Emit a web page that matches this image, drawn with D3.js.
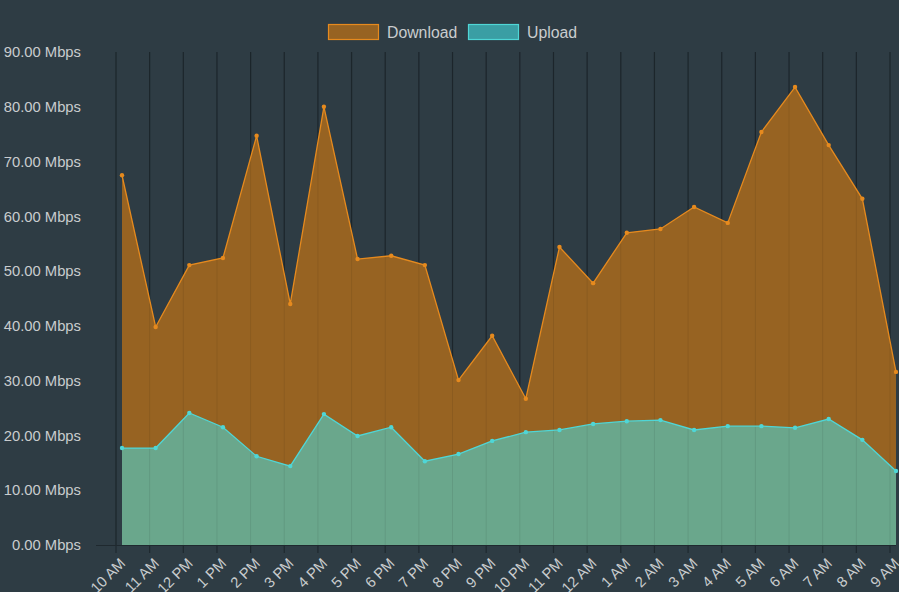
<!DOCTYPE html>
<html><head><meta charset="utf-8">
<script src="https://cdn.jsdelivr.net/npm/d3@7"></script>
<style>html,body{margin:0;padding:0;background:#2e3c44;}svg{display:block;}</style>
</head><body>
<svg id="c" width="899" height="592"></svg>
<script>
const categories = ["10 AM","11 AM","12 PM","1 PM","2 PM","3 PM","4 PM","5 PM","6 PM","7 PM","8 PM","9 PM","10 PM","11 PM","12 AM","1 AM","2 AM","3 AM","4 AM","5 AM","6 AM","7 AM","8 AM","9 AM"];
const download = [67.5,39.8,51.1,52.4,74.7,44.0,80.0,52.2,52.8,51.1,30.1,38.2,26.7,54.4,47.8,57.0,57.7,61.7,58.8,75.4,83.6,73.0,63.2,31.6];
const upload = [17.7,17.7,24.1,21.5,16.2,14.4,23.9,19.9,21.5,15.3,16.6,19.0,20.6,21.0,22.1,22.6,22.8,21.0,21.7,21.7,21.4,23.0,19.2,13.5];
const yTicks = [0,10,20,30,40,50,60,70,80,90];
const seriesNames = ["Download","Upload"];

const svg = d3.select("#c");
const W = 899, H = 592;
svg.append("rect").attr("width",W).attr("height",H).attr("fill","#2e3c44");

const x = d3.scalePoint().domain(d3.range(categories.length)).range([122,896]);
const y = d3.scaleLinear().domain([0,90]).range([545,52]);
const gridOff = -6;
const font = "'Liberation Sans', Arial, sans-serif";
const txt = "#c9ccce";

const g = svg.append("g");
g.selectAll("line.grid").data(d3.range(categories.length)).join("line")
  .attr("x1",i=>x(i)+gridOff).attr("x2",i=>x(i)+gridOff)
  .attr("y1",y(90)).attr("y2",553)
  .attr("stroke","#1f292f").attr("stroke-width",1.2);

const area = (arr)=>d3.area().x((d,i)=>x(i)).y0(y(0)).y1(d=>y(d))(arr);
const line = (arr)=>d3.line().x((d,i)=>x(i)).y(d=>y(d))(arr);

svg.append("path").attr("d",area(download)).attr("fill","#976322");
svg.append("path").attr("d",area(upload)).attr("fill","#6aa78c");

svg.append("g").selectAll("line").data(d3.range(categories.length)).join("line")
  .attr("x1",i=>x(i)+gridOff).attr("x2",i=>x(i)+gridOff)
  .attr("y1",y(90)).attr("y2",y(0))
  .attr("stroke","rgba(0,0,0,0.08)").attr("stroke-width",1);

svg.append("path").attr("d",line(download)).attr("fill","none").attr("stroke","#e68a1e").attr("stroke-width",1.3);
svg.append("path").attr("d",line(upload)).attr("fill","none").attr("stroke","#4fd6d6").attr("stroke-width",1.3);

svg.append("g").selectAll("circle").data(download).join("circle")
  .attr("cx",(d,i)=>x(i)).attr("cy",d=>y(d)).attr("r",2.2).attr("fill","#e68a1e");
svg.append("g").selectAll("circle").data(upload).join("circle")
  .attr("cx",(d,i)=>x(i)).attr("cy",d=>y(d)).attr("r",2.2).attr("fill","#4fd6d6");

svg.append("line").attr("x1",96).attr("x2",896).attr("y1",y(0)+0.5).attr("y2",y(0)+0.5)
  .attr("stroke","#1f292f").attr("stroke-width",1.2);

svg.append("g").selectAll("text").data(yTicks).join("text")
  .attr("x",81).attr("y",d=>y(d)).attr("dy","0.35em").attr("text-anchor","end")
  .attr("font-family",font).attr("font-size",14.8).attr("fill",txt)
  .text(d=>d3.format(".2f")(d)+" Mbps");

svg.append("g").selectAll("text").data(categories).join("text")
  .attr("transform",(d,i)=>`translate(${x(i)+gridOff+3},${557}) rotate(-45)`)
  .attr("text-anchor","end").attr("dy","0.7em")
  .attr("font-family",font).attr("font-size",14.8).attr("fill",txt)
  .text(d=>d);

const leg = [{n:seriesNames[0],fill:"#976322",stroke:"#e68a1e",x:328},{n:seriesNames[1],fill:"#3a9ea4",stroke:"#4fd6d6",x:468}];
const lg = svg.append("g");
leg.forEach(l=>{
  lg.append("rect").attr("x",l.x+0.5).attr("y",24.5).attr("width",50).attr("height",15)
    .attr("fill",l.fill).attr("stroke",l.stroke).attr("stroke-width",1.2);
  lg.append("text").attr("x",l.x+59).attr("y",32).attr("dy","0.35em")
    .attr("font-family",font).attr("font-size",15.8).attr("fill",txt).text(l.n);
});
</script>
</body></html>
